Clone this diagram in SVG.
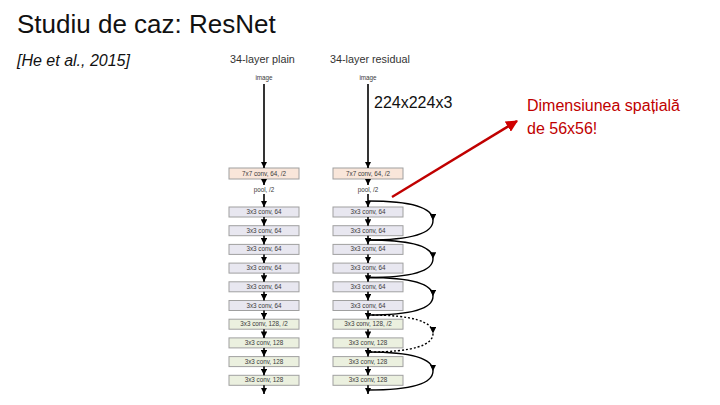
<svg xmlns="http://www.w3.org/2000/svg" width="720" height="405" viewBox="0 0 720 405">
<style>
.title{font-family:"Liberation Sans",Arial,sans-serif;font-size:26px;fill:#111}
.cite{font-family:"Liberation Sans",Arial,sans-serif;font-size:16px;font-style:italic;fill:#111}
.head{font-family:"Liberation Sans",Arial,sans-serif;font-size:10.8px;fill:#333}
.tiny{font-family:"Liberation Sans",Arial,sans-serif;font-size:6.3px;fill:#3a3a3a;text-anchor:middle}
.box{stroke:#a0a0a0;stroke-width:1}
.c7{fill:#f9e6da}
.c64{fill:#e8e7f0}
.c128{fill:#ebf0df}
.ar{stroke:#000;stroke-width:1.6;fill:none;marker-end:url(#ah)}
.sk{stroke:#000;stroke-width:1.4;fill:none;marker-mid:url(#ah)}
.dot{stroke-dasharray:2 2}
.red{font-family:"Liberation Sans",Arial,sans-serif;font-size:16px;fill:#c00000}
.dim{font-family:"Liberation Sans",Arial,sans-serif;font-size:16px;fill:#111}
</style>
<defs>
<marker id="ah" viewBox="0 0 10 10" refX="10" refY="5" markerWidth="6.5" markerHeight="6.5" markerUnits="userSpaceOnUse" orient="auto"><path d="M0,0 L10,5 L0,10 z" fill="#000"/></marker>
<marker id="rh" viewBox="0 0 10 10" refX="9" refY="5" markerWidth="12" markerHeight="12" markerUnits="userSpaceOnUse" orient="auto"><path d="M0,0 L10,5 L0,10 z" fill="#d00000"/></marker>
</defs>
<text class="title" x="17" y="33">Studiu de caz: ResNet</text>
<text class="cite" x="17" y="66">[He et al., 2015]</text>
<text class="head" x="230" y="63">34-layer plain</text>
<text class="head" x="330" y="63">34-layer residual</text>
<text class="dim" x="374" y="108">224x224x3</text>
<text class="red" x="527" y="111">Dimensiunea spațială</text>
<text class="red" x="527" y="134">de 56x56!</text>

<g id="plain">
<text class="tiny" x="264" y="80">image</text>
<g id="p-conv7"><rect class="box c7" x="229" y="168" width="70" height="11"/><text class="tiny" x="264" y="176">7x7 conv, 64, /2</text></g>
<text class="tiny" x="264" y="191.5">pool, /2</text>
<g id="p1"><rect class="box c64" x="229" y="207" width="70" height="10"/><text class="tiny" x="264" y="214">3x3 conv, 64</text></g>
<g id="p2"><rect class="box c64" x="229" y="225.7" width="70" height="10"/><text class="tiny" x="264" y="232.7">3x3 conv, 64</text></g>
<g id="p3"><rect class="box c64" x="229" y="244.4" width="70" height="10"/><text class="tiny" x="264" y="251.4">3x3 conv, 64</text></g>
<g id="p4"><rect class="box c64" x="229" y="263.1" width="70" height="10"/><text class="tiny" x="264" y="270.1">3x3 conv, 64</text></g>
<g id="p5"><rect class="box c64" x="229" y="281.8" width="70" height="10"/><text class="tiny" x="264" y="288.8">3x3 conv, 64</text></g>
<g id="p6"><rect class="box c64" x="229" y="300.5" width="70" height="10"/><text class="tiny" x="264" y="307.5">3x3 conv, 64</text></g>
<g id="p7"><rect class="box c128" x="229" y="319.2" width="70" height="10"/><text class="tiny" x="264" y="326.2">3x3 conv, 128, /2</text></g>
<g id="p8"><rect class="box c128" x="229" y="337.9" width="70" height="10"/><text class="tiny" x="264" y="344.9">3x3 conv, 128</text></g>
<g id="p9"><rect class="box c128" x="229" y="356.6" width="70" height="10"/><text class="tiny" x="264" y="363.6">3x3 conv, 128</text></g>
<g id="p10"><rect class="box c128" x="229" y="375.3" width="70" height="10"/><text class="tiny" x="264" y="382.3">3x3 conv, 128</text></g>
</g>

<g id="residual">
<text class="tiny" x="368" y="80">image</text>
<g id="r-conv7"><rect class="box c7" x="333" y="168" width="70" height="11"/><text class="tiny" x="368" y="176">7x7 conv, 64, /2</text></g>
<text class="tiny" x="368" y="191.5">pool, /2</text>
<g id="r1"><rect class="box c64" x="333" y="207" width="70" height="10"/><text class="tiny" x="368" y="214">3x3 conv, 64</text></g>
<g id="r2"><rect class="box c64" x="333" y="225.7" width="70" height="10"/><text class="tiny" x="368" y="232.7">3x3 conv, 64</text></g>
<g id="r3"><rect class="box c64" x="333" y="244.4" width="70" height="10"/><text class="tiny" x="368" y="251.4">3x3 conv, 64</text></g>
<g id="r4"><rect class="box c64" x="333" y="263.1" width="70" height="10"/><text class="tiny" x="368" y="270.1">3x3 conv, 64</text></g>
<g id="r5"><rect class="box c64" x="333" y="281.8" width="70" height="10"/><text class="tiny" x="368" y="288.8">3x3 conv, 64</text></g>
<g id="r6"><rect class="box c64" x="333" y="300.5" width="70" height="10"/><text class="tiny" x="368" y="307.5">3x3 conv, 64</text></g>
<g id="r7"><rect class="box c128" x="333" y="319.2" width="70" height="10"/><text class="tiny" x="368" y="326.2">3x3 conv, 128, /2</text></g>
<g id="r8"><rect class="box c128" x="333" y="337.9" width="70" height="10"/><text class="tiny" x="368" y="344.9">3x3 conv, 128</text></g>
<g id="r9"><rect class="box c128" x="333" y="356.6" width="70" height="10"/><text class="tiny" x="368" y="363.6">3x3 conv, 128</text></g>
<g id="r10"><rect class="box c128" x="333" y="375.3" width="70" height="10"/><text class="tiny" x="368" y="382.3">3x3 conv, 128</text></g>
</g>

<g id="connectors">
<path class="ar" d="M264,84 V168"/>
<path class="ar" d="M264,179 V185"/>
<path class="ar" d="M264,194 V207"/>
<path class="ar" d="M264,217 V225.7"/>
<path class="ar" d="M264,235.7 V244.4"/>
<path class="ar" d="M264,254.4 V263.1"/>
<path class="ar" d="M264,273.1 V281.8"/>
<path class="ar" d="M264,291.8 V300.5"/>
<path class="ar" d="M264,310.5 V319.2"/>
<path class="ar" d="M264,329.2 V337.9"/>
<path class="ar" d="M264,347.9 V356.6"/>
<path class="ar" d="M264,366.6 V375.3"/>
<path class="ar" d="M264,385.3 V394"/>

<path class="ar" d="M368,84 V168"/>
<path class="ar" d="M368,179 V185"/>
<path class="ar" d="M368,194 V207"/>
<path class="ar" d="M368,217 V225.7"/>
<path class="ar" d="M368,235.7 V244.4"/>
<path class="ar" d="M368,254.4 V263.1"/>
<path class="ar" d="M368,273.1 V281.8"/>
<path class="ar" d="M368,291.8 V300.5"/>
<path class="ar" d="M368,310.5 V319.2"/>
<path class="ar" d="M368,329.2 V337.9"/>
<path class="ar" d="M368,347.9 V356.6"/>
<path class="ar" d="M368,366.6 V375.3"/>
<path class="ar" d="M368,385.3 V394"/>

<path class="sk" d="M368,201 C414,201 433,208 433,220.5 C433,233 414,240 368,240"/>
<path class="sk" d="M368,240 C414,240 433,247 433,258.7 C433,270.5 414,277.5 368,277.5"/>
<path class="sk" d="M368,277.5 C414,277.5 433,284.5 433,296.2 C433,308 414,315 368,315"/>
<path class="sk dot" d="M368,315 C414,315 433,322 433,333.5 C433,345 414,352 368,352"/>
<path class="sk" d="M368,352 C414,352 433,359 433,371 C433,383 414,390 368,390"/>

<line x1="392" y1="197" x2="517" y2="121" stroke="#c00000" stroke-width="2.4" marker-end="url(#rh)"/>
</g>
</svg>
